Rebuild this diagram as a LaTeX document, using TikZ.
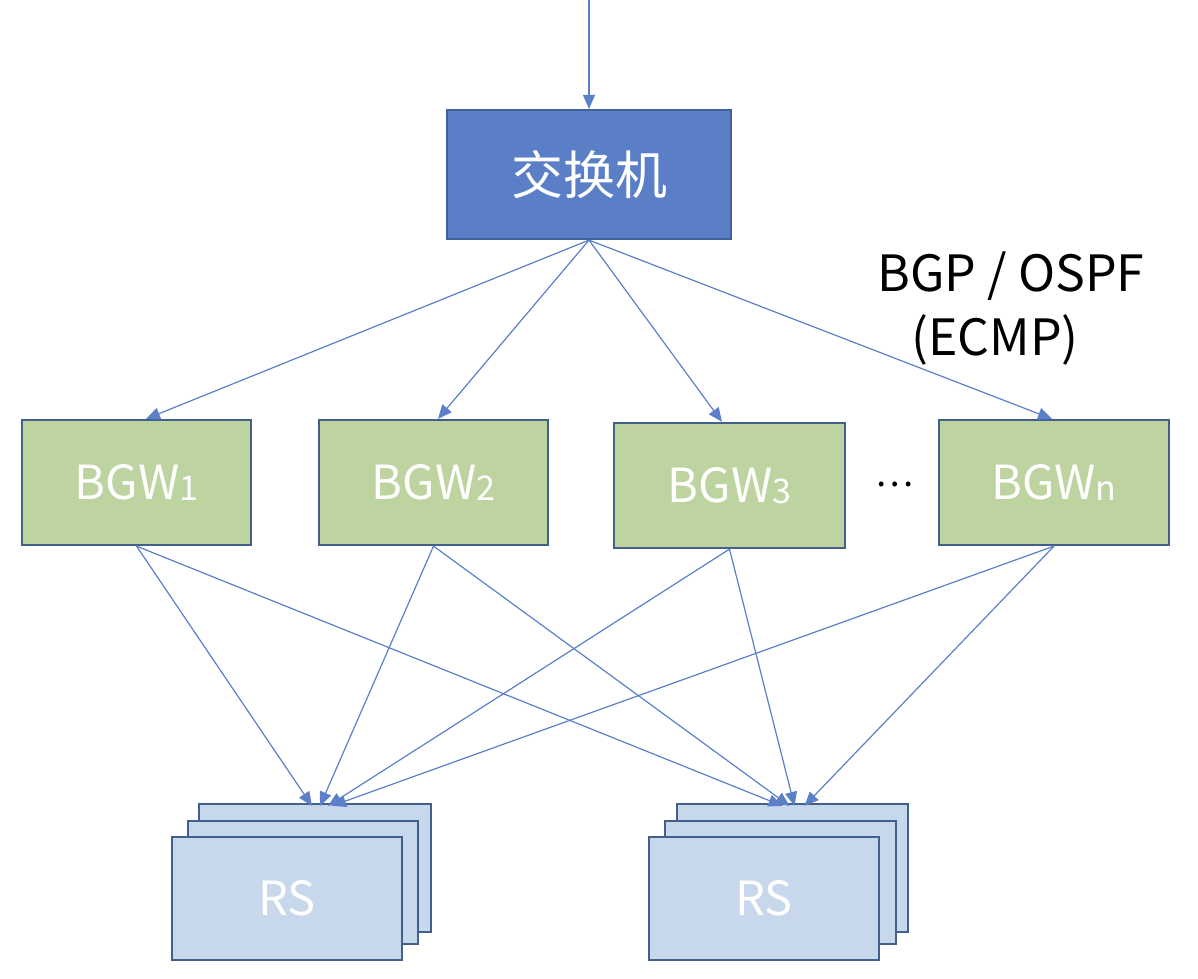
\documentclass[tikz,border=0pt]{standalone}
\usepackage{fontspec}
\setmainfont{Noto Sans CJK SC}
\usetikzlibrary{arrows.meta}
\definecolor{swfill}{RGB}{90,127,199}
\definecolor{swline}{RGB}{65,97,154}
\definecolor{bgwfill}{RGB}{189,211,160}
\definecolor{boxline}{RGB}{66,96,138}
\definecolor{rsfill}{RGB}{199,216,236}
\definecolor{wire}{RGB}{91,128,200}
\tikzset{
  box/.style={draw=boxline, line width=2.2pt, inner sep=0pt, text=white,
    font=\fontsize{47}{52}\selectfont},
  swbox/.style={box, fill=swfill, draw=swline, minimum width=284pt, minimum height=129pt,
    font=\fontsize{52}{58}\selectfont},
  bgwbox/.style={box, fill=bgwfill, minimum width=229pt, minimum height=125pt},
  rsbox/.style={box, fill=rsfill, minimum width=230pt, minimum height=123pt},
  wirearrow/.style={draw=wire, line width=1.2pt, -{Triangle[length=14pt,width=12pt]}},
  lbl/.style={font=\fontsize{50}{56}\selectfont, text=black, inner sep=0pt},
}
\newcommand{\sbs}[1]{\raisebox{-1pt}{\fontsize{34}{38}\selectfont #1}}
\begin{document}
\begin{tikzpicture}[x=1pt,y=-1pt]
\useasboundingbox (0,0) rectangle (1198,978);
\fill[white] (0,0) rectangle (1198,978);

% switch
\node[swbox] (sw) at (589,174.5) {交换机};
\coordinate (in) at (589,0);

% BGW nodes
\node[bgwbox] (b1) at (136.5,482.5) {BGW\sbs{1}};
\node[bgwbox] (b2) at (433.5,482.5) {BGW\sbs{2}};
\node[bgwbox, minimum width=231pt] (b3) at (729.5,485.5) {BGW\sbs{3}};
\node[bgwbox, minimum width=230pt] (bn) at (1054,482.5) {BGW\sbs{n}};
\node[lbl, font=\fontsize{36}{40}\selectfont] (dots) at (895,484) {…};

% label
\node[lbl] (proto) at (1011,276) {BGP / OSPF};
\node[lbl] (ecmp) at (995,340) {(ECMP)};

% RS stacks
\node[rsbox, minimum width=232pt, minimum height=128pt] (r1c) at (315,868) {};
\node[rsbox] (r1b) at (303,882.5) {};
\node[rsbox] (r1a) at (287,898.5) {RS};
\node[rsbox, minimum width=231pt, minimum height=128pt] (r2c) at (792.5,868) {};
\node[rsbox, minimum width=231pt] (r2b) at (780.5,882.5) {};
\node[rsbox] (r2a) at (764,898.5) {RS};

% top arrows
\draw[wirearrow] (in) -- (sw.north);
\draw[wirearrow] (sw.south) -- ([xshift=9.5pt]b1.north);
\draw[wirearrow] (sw.south) -- ([xshift=4.5pt]b2.north);
\draw[wirearrow] (sw.south) -- ([xshift=-7.5pt]b3.north);
\draw[wirearrow] (sw.south) -- ([xshift=-2pt]bn.north);

% lower arrows
\draw[wirearrow] (b1.south) -- ([xshift=-3pt,yshift=-3pt]r1c.north);
\draw[wirearrow] (b2.south) -- ([xshift=5pt,yshift=-3pt]r1c.north);
\draw[wirearrow] (b3.south) -- ([xshift=13pt,yshift=-3pt]r1c.north);
\draw[wirearrow] (bn.south) -- ([xshift=17pt,yshift=-3pt]r1c.north);
\draw[wirearrow] (b1.south) -- ([xshift=-10pt,yshift=-3pt]r2c.north);
\draw[wirearrow] (b2.south) -- ([xshift=-3pt,yshift=-3pt]r2c.north);
\draw[wirearrow] (b3.south) -- ([xshift=2pt,yshift=-3pt]r2c.north);
\draw[wirearrow] (bn.south) -- ([xshift=12pt,yshift=-3pt]r2c.north);
\end{tikzpicture}
\end{document}
